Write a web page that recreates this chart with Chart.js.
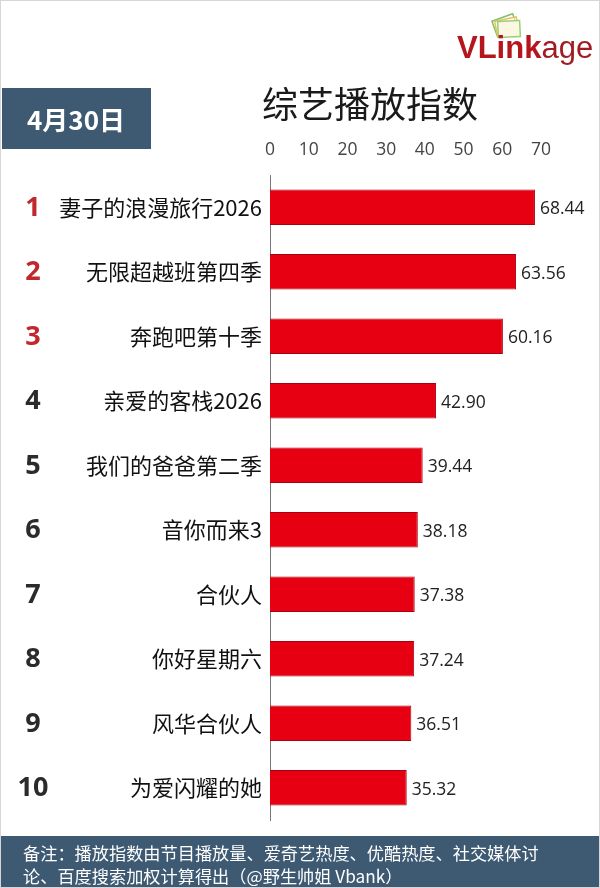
<!DOCTYPE html>
<html>
<head>
<meta charset="utf-8">
<script src="https://cdn.jsdelivr.net/npm/chart.js@4"></script>
<style>
    html, body { margin: 0; padding: 0; background: #fff; }
    #wrap { width: 600px; height: 888px; position: relative; }
</style>
</head>
<body>
<div id="wrap"><canvas id="chart" width="600" height="888"></canvas></div>
<script>
// data
let shows = ['妻子的浪漫旅行2026', '无限超越班第四季', '奔跑吧第十季', '亲爱的客栈2026', '我们的爸爸第二季',
    '音你而来3', '合伙人', '你好星期六', '风华合伙人', '为爱闪耀的她']
let scores = [68.44, 63.56, 60.16, 42.90, 39.44, 38.18, 37.38, 37.24, 36.51, 35.32]
let ranks = ['1', '2', '3', '4', '5', '6', '7', '8', '9', '10']
let xTicks = [0, 10, 20, 30, 40, 50, 60, 70]

let dateText = '4月30日'
let titleText = '综艺播放指数'
let noteLines = ['备注：播放指数由节目播放量、爱奇艺热度、优酷热度、社交媒体讨', '论、百度搜索加权计算得出（@野生帅姐 Vbank）']

let cjk = '"Noto Sans CJK SC", "Noto Sans", sans-serif'
let num = '"Open Sans", "Noto Sans", sans-serif'
let navy = '#3e5a73'

let decorPlugin = {
    id: 'decor',
    beforeDraw(chart) {
        let ctx = chart.ctx
        ctx.save()
        ctx.fillStyle = '#fff'
        ctx.fillRect(0, 0, 600, 888)
        ctx.restore()
    },
    afterDraw(chart) {
        let ctx = chart.ctx
        let y = chart.scales.y
        let x = chart.scales.x
        ctx.save()

        // rank numbers
        ctx.textAlign = 'center'
        ctx.textBaseline = 'middle'
        ctx.font = `bold 27px ${num}`
        ranks.forEach((r, i) => {
            ctx.fillStyle = i < 3 ? '#c1272d' : '#2b2b2b'
            ctx.fillText(r, 33, y.getPixelForValue(i) + 1)
        })

        // value labels
        ctx.textAlign = 'left'
        ctx.font = `17.5px ${num}`
        ctx.fillStyle = '#222'
        scores.forEach((v, i) => {
            ctx.fillText(v.toFixed(2), x.getPixelForValue(v) + 5, y.getPixelForValue(i) + 2)
        })

        // date box
        ctx.fillStyle = navy
        ctx.fillRect(2, 88, 149, 61)
        ctx.fillStyle = '#fff'
        ctx.textAlign = 'center'
        ctx.font = `bold 26px ${cjk}`
        ctx.fillText(dateText, 76, 120)

        // title
        ctx.fillStyle = '#1a1a1a'
        ctx.textAlign = 'left'
        ctx.font = `36px ${cjk}`
        ctx.fillText(titleText, 262, 104)

        // logo icon
        let cards = [['#7fbf6a', -0.35], ['#e8c25a', -0.2], ['#9ccf7a', -0.05]]
        cards.forEach(([c, a], k) => {
            ctx.save()
            ctx.translate(505 + k * 2, 25 + k * 2)
            ctx.rotate(a)
            ctx.strokeStyle = c
            ctx.lineWidth = 1.5
            ctx.fillStyle = k == 2 ? '#fbf7e0' : 'rgba(255,255,255,0.6)'
            ctx.fillRect(-11, -8, 22, 16)
            ctx.strokeRect(-11, -8, 22, 16)
            ctx.restore()
        })

        // logo text
        ctx.textBaseline = 'alphabetic'
        ctx.font = `bold 31px "Liberation Sans", sans-serif`
        ctx.fillStyle = '#b5161d'
        ctx.fillText('VLink', 457, 58)
        let w = ctx.measureText('VLink').width
        ctx.font = `31px "Liberation Sans", sans-serif`
        ctx.fillStyle = '#a01c22'
        ctx.fillText('age', 457 + w, 58)

        // footer
        ctx.fillStyle = navy
        ctx.fillRect(0, 836, 600, 52)
        ctx.fillStyle = '#fff'
        ctx.textBaseline = 'middle'
        ctx.font = `17.2px ${cjk}`
        ctx.fillText(noteLines[0], 23, 853)
        ctx.fillText(noteLines[1], 23, 876)

        // outer frame
        ctx.strokeStyle = '#d6d6d6'
        ctx.lineWidth = 1
        ctx.strokeRect(0.5, 0.5, 599, 887)
        ctx.restore()
    }
}

new Chart(document.getElementById('chart'), {
    type: 'bar',
    data: {
        labels: shows,
        datasets: [{
            data: scores,
            backgroundColor: '#e60012',
            borderColor: '#a8000e',
            borderWidth: 1,
            borderSkipped: 'left',
            categoryPercentage: 1,
            barPercentage: 0.55
        }]
    },
    options: {
        indexAxis: 'y',
        responsive: false,
        animation: false,
        devicePixelRatio: 1,
        layout: { padding: { top: 130, left: 0, right: 59, bottom: 68 } },
        plugins: {
            legend: { display: false },
            tooltip: { enabled: false }
        },
        scales: {
            x: {
                position: 'top',
                min: 0,
                max: 70,
                afterBuildTicks: (s) => { s.ticks = xTicks.map(v => ({ value: v })) },
                afterFit: (s) => { s.height = 45 },
                grid: { display: false, drawTicks: false },
                border: { display: false },
                ticks: { color: '#444', font: { size: 17.5, family: num }, padding: 14 }
            },
            y: {
                afterFit: (s) => { s.width = 270 },
                grid: { display: false, drawTicks: false },
                border: { display: true, color: '#777', width: 1 },
                ticks: { color: '#111', font: { size: 22, family: cjk }, padding: 8 }
            }
        }
    },
    plugins: [decorPlugin]
})
</script>
</body>
</html>
